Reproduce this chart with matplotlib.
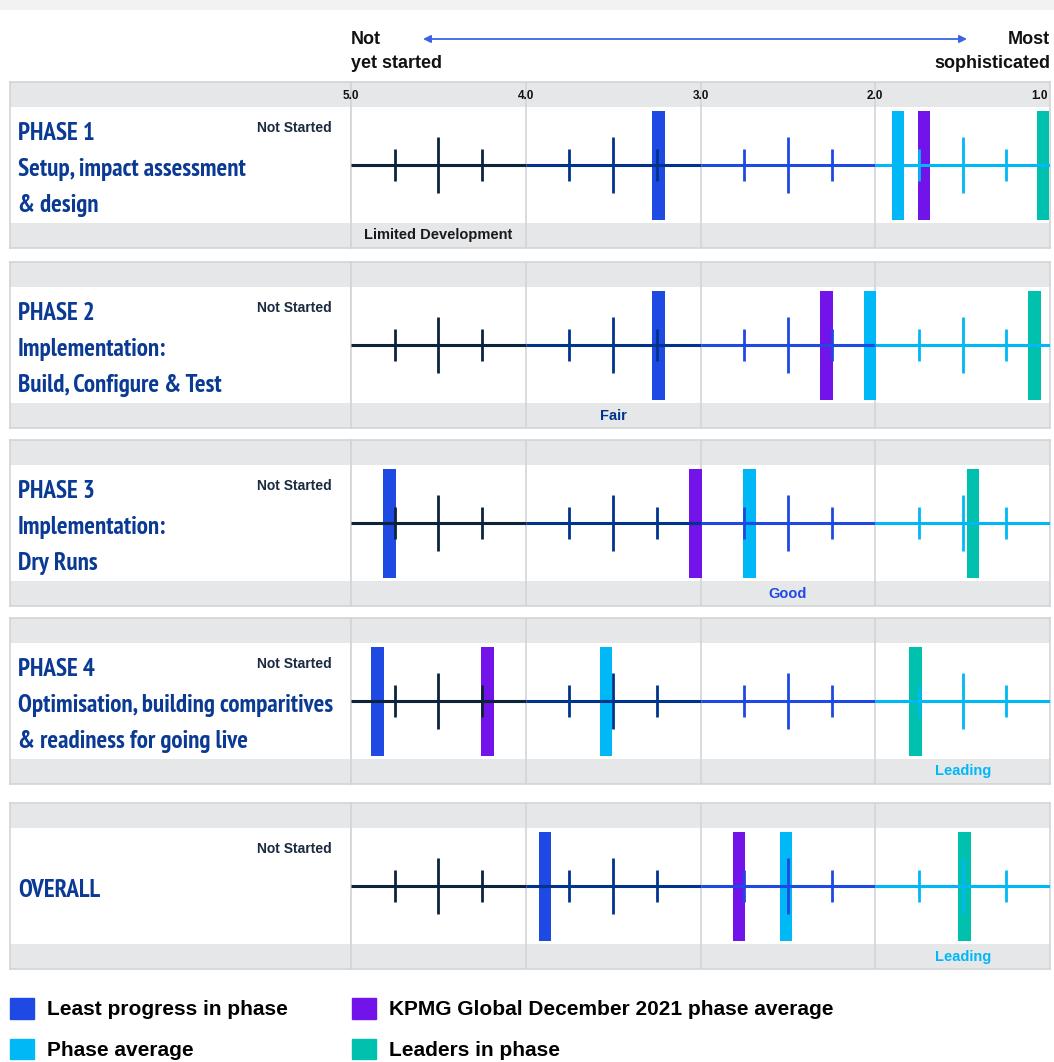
import matplotlib.pyplot as plt
from matplotlib.patches import Patch
from matplotlib import font_manager

plt.rcParams['font.family'] = ['Liberation Sans', 'DejaVu Sans']

W, H = 1054, 1062

# ---- data ----
phase_titles = [
    "PHASE 1\nSetup, impact assessment\n& design",
    "PHASE 2\nImplementation:\nBuild, Configure & Test",
    "PHASE 3\nImplementation:\nDry Runs",
    "PHASE 4\nOptimisation, building comparitives\n& readiness for going live",
    "OVERALL",
]
least_progress = [3.24, 3.24, 4.78, 4.85, 3.89]
phase_average = [1.87, 2.03, 2.72, 3.54, 2.51]
kpmg_global = [1.72, 2.28, 3.03, 4.22, 2.78]
leaders = [1.04, 1.09, 1.44, 1.77, 1.49]
level_labels = ['Limited Development', 'Fair', 'Good', 'Leading', 'Leading']
level_segment = [0, 1, 2, 3, 3]
scale_edges = [5.0, 4.0, 3.0, 2.0, 1.0]
scale_labels = ['5.0', '4.0', '3.0', '2.0', '1.0']
series_names = ['Least progress in phase', 'Phase average',
                'KPMG Global December 2021 phase average', 'Leaders in phase']

# ---- styling ----
seg_colors = ['#0c233c', '#00338d', '#1e49e2', '#00b8f5']
c_least, c_avg, c_kpmg, c_lead = '#1e49e2', '#00b8f5', '#7213ea', '#00c0ae'
grey = '#e6e7e9'
edge = '#d3d4d6'
title_col = '#0a3a94'

# pick a condensed bold face for the phase titles if one is installed
cond = None
for f in font_manager.fontManager.ttflist:
    st = str(f.stretch).lower()
    nm = f.name.lower()
    if ('condensed' in st or 'narrow' in nm or 'condensed' in nm) and str(f.weight) in ('bold', '700'):
        cond = f.fname
        if 'narrow' in nm:
            break
title_font = font_manager.FontProperties(fname=cond) if cond else \
    font_manager.FontProperties(family='DejaVu Sans', weight='bold')

panel_tops = [82, 262, 440, 618, 803]
panel_h = 166
band = 25 / panel_h


def fig_box(x0, y0, x1, y1):
    return [x0 / W, 1 - y1 / H, (x1 - x0) / W, (y1 - y0) / H]


fig = plt.figure(figsize=(W / 100, H / 100), dpi=100)
fig.patches.append(plt.Rectangle((0, 1 - 10 / H), 1, 10 / H, transform=fig.transFigure,
                                 color='#f2f2f2', lw=0))

# fit title size so the widest line is ~315 px
renderer = fig.canvas.get_renderer()
probe = fig.text(0, 0, "Optimisation, building comparitives", fontproperties=title_font, fontsize=20)
pw = probe.get_window_extent(renderer).width
probe.remove()
title_size = min(20, 20 * 315 / pw)

# header
fig.text(351 / W, 1 - 31 / H, "Not\nyet started", ha='left', va='top', fontsize=13,
         fontweight='bold', linespacing=1.55, color='#111111')
fig.text(1050 / W, 1 - 31 / H, "Most\nsophisticated", ha='right', va='top', fontsize=13,
         fontweight='bold', linespacing=1.55, multialignment='right', color='#111111')
fig.add_artist(plt.Annotation('', xy=(423 / W, 1 - 39 / H), xytext=(967 / W, 1 - 39 / H),
                              xycoords='figure fraction', textcoords='figure fraction',
                              arrowprops=dict(arrowstyle='<|-|>', color='#3c63e6', lw=1.3,
                                              mutation_scale=11, shrinkA=0, shrinkB=0)))

tick_marks = [(0.25, 0.096), (0.5, 0.169), (0.75, 0.096)]
line_step = 36 / panel_h

for i, top in enumerate(panel_tops):
    lab = fig.add_axes(fig_box(10, top, 351, top + panel_h))
    ax = fig.add_axes(fig_box(351, top, 1050, top + panel_h))
    for a in (lab, ax):
        a.set_ylim(0, 1)
        a.axhspan(1 - band, 1, color=grey, lw=0, zorder=0)
        a.axhspan(0, band, color=grey, lw=0, zorder=0)
        a.set_xticks([])
        a.set_yticks([])
        for s in a.spines.values():
            s.set_color(edge)
            s.set_linewidth(1.2)
    lab.set_xlim(0, 1)
    ax.set_xlim(scale_edges[0], scale_edges[-1])

    for e in scale_edges[1:-1]:
        ax.axvline(e, color=edge, lw=1.2, zorder=1)

    # bars
    for vals, col in ((least_progress, c_least), (phase_average, c_avg),
                      (kpmg_global, c_kpmg), (leaders, c_lead)):
        ax.bar(vals[i], 0.657, bottom=0.169, width=0.072, color=col, lw=0, zorder=2)

    # scale line with ticks
    for k in range(4):
        s, e = scale_edges[k], scale_edges[k + 1]
        ax.plot([s, e], [0.5, 0.5], color=seg_colors[k], lw=2.2, zorder=3,
                solid_capstyle='butt')
        for f, h in tick_marks:
            ax.vlines(s - f, 0.5 - h, 0.5 + h, color=seg_colors[k], lw=2.0, zorder=3)

    # scale labels on first panel
    if i == 0:
        for e, t in zip(scale_edges, scale_labels):
            ha = 'right' if e == scale_edges[-1] else 'center'
            ax.text(e if ha == 'center' else e + 0.015, 1 - 14 / panel_h, t, ha=ha,
                    va='center', fontsize=8.5, fontweight='bold', color='#111111')

    # level label
    k = level_segment[i]
    mid = (scale_edges[k] + scale_edges[k + 1]) / 2
    lcol = '#1a1a1a' if k == 0 else seg_colors[k]
    ax.text(mid, band / 2, level_labels[i], ha='center', va='center', fontsize=10.5,
            fontweight='bold', color=lcol)

    # titles, one line each at fixed spacing
    lines = phase_titles[i].split('\n')
    n = len(lines)
    for j, ln in enumerate(lines):
        y = 0.5 + (n - 1) / 2 * line_step - j * line_step - 2 / panel_h
        lab.text(8 / 341, y, ln, ha='left', va='center_baseline', fontproperties=title_font,
                 fontsize=title_size, color=title_col)
    lab.text(322 / 341, 1 - 46 / panel_h, 'Not Started', ha='right', va='center',
             fontsize=10, fontweight='bold', color='#1a2a40')

handles = [Patch(color=c_least), Patch(color=c_avg), Patch(color=c_kpmg), Patch(color=c_lead)]
fig.legend(handles, series_names, ncol=2, loc='upper left',
           bbox_to_anchor=(10 / W, 1 - 998 / H), frameon=False, borderpad=0,
           borderaxespad=0, prop=dict(size=15, weight='bold'),
           handlelength=1.15, handleheight=1.15, handletextpad=0.62,
           labelspacing=0.92, columnspacing=3.1)

fig.savefig('out.png', dpi=100)
